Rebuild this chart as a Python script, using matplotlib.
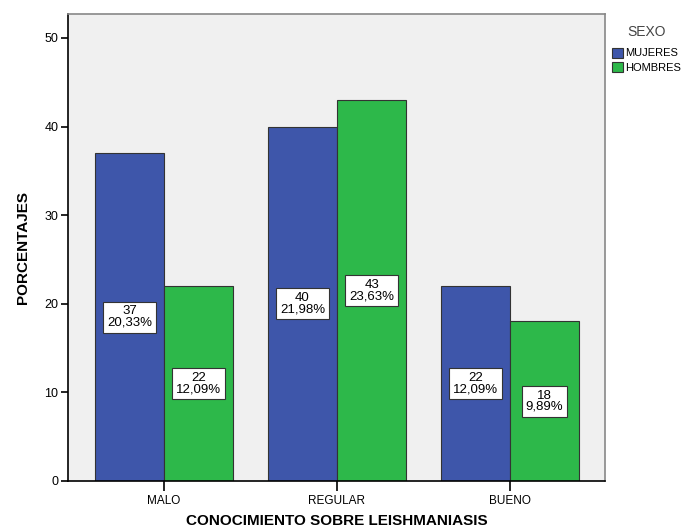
import matplotlib
matplotlib.use('Agg')
import matplotlib.pyplot as plt
import numpy as np

plt.rcParams['font.family'] = ['Liberation Sans', 'DejaVu Sans']

# datos de la encuesta
categorias = ['MALO', 'REGULAR', 'BUENO']
mujeres = [37, 40, 22]
hombres = [22, 43, 18]
pct_mujeres = ['20,33%', '21,98%', '12,09%']
pct_hombres = ['12,09%', '23,63%', '9,89%']

azul = '#3E56AA'
verde = '#2DB84A'

fig = plt.figure(figsize=(6.9, 5.3), dpi=100)
ax = fig.add_axes([0.0986, 0.0925, 0.7783, 0.8811])
ax.set_facecolor('#F0F0F0')

x = np.arange(len(categorias))
ancho = 0.4
ax.bar(x - ancho / 2, mujeres, ancho, color=azul, edgecolor='#333333', linewidth=0.8, label='MUJERES')
ax.bar(x + ancho / 2, hombres, ancho, color=verde, edgecolor='#333333', linewidth=0.8, label='HOMBRES')

# etiquetas en la mitad de cada barra
caja = dict(boxstyle='square,pad=0.3', facecolor='white', edgecolor='#333333', linewidth=0.8)
for i in range(len(categorias)):
    ax.text(x[i] - ancho / 2, mujeres[i] / 2, f'{mujeres[i]}\n{pct_mujeres[i]}',
            ha='center', va='center', fontsize=9.5, linespacing=0.9, bbox=caja)
    ax.text(x[i] + ancho / 2, hombres[i] / 2, f'{hombres[i]}\n{pct_hombres[i]}',
            ha='center', va='center', fontsize=9.5, linespacing=0.9, bbox=caja)

ax.set_xlim(-0.555, 2.55)
ax.set_ylim(0, 52.7)
ax.set_yticks([0, 10, 20, 30, 40, 50])
ax.set_xticks(x)
ax.set_xticklabels(categorias)
ax.tick_params(axis='y', labelsize=9, length=5, width=1.2, direction='out', color='black', pad=2)
ax.tick_params(axis='x', labelsize=8.5, length=7, width=1.2, direction='out', color='black', pad=3)

for s in ['left', 'bottom']:
    ax.spines[s].set_color('black')
    ax.spines[s].set_linewidth(1.2)
for s in ['top', 'right']:
    ax.spines[s].set_color('#888888')
    ax.spines[s].set_linewidth(1.2)

ax.set_xlabel('CONOCIMIENTO SOBRE LEISHMANIASIS', fontsize=11, fontweight='bold', labelpad=5)
ax.set_ylabel('PORCENTAJES', fontsize=11, fontweight='bold', labelpad=10)

leg = ax.legend(title='SEXO', loc='upper left', bbox_to_anchor=(1.0, 0.99), frameon=False,
                fontsize=8, title_fontsize=10, handlelength=1.0, handleheight=1.0,
                handletextpad=0.2, labelspacing=0.3, borderaxespad=0.2)
leg.get_title().set_color('#444444')
leg._legend_box.sep = 6

fig.savefig('out.png', dpi=100)
